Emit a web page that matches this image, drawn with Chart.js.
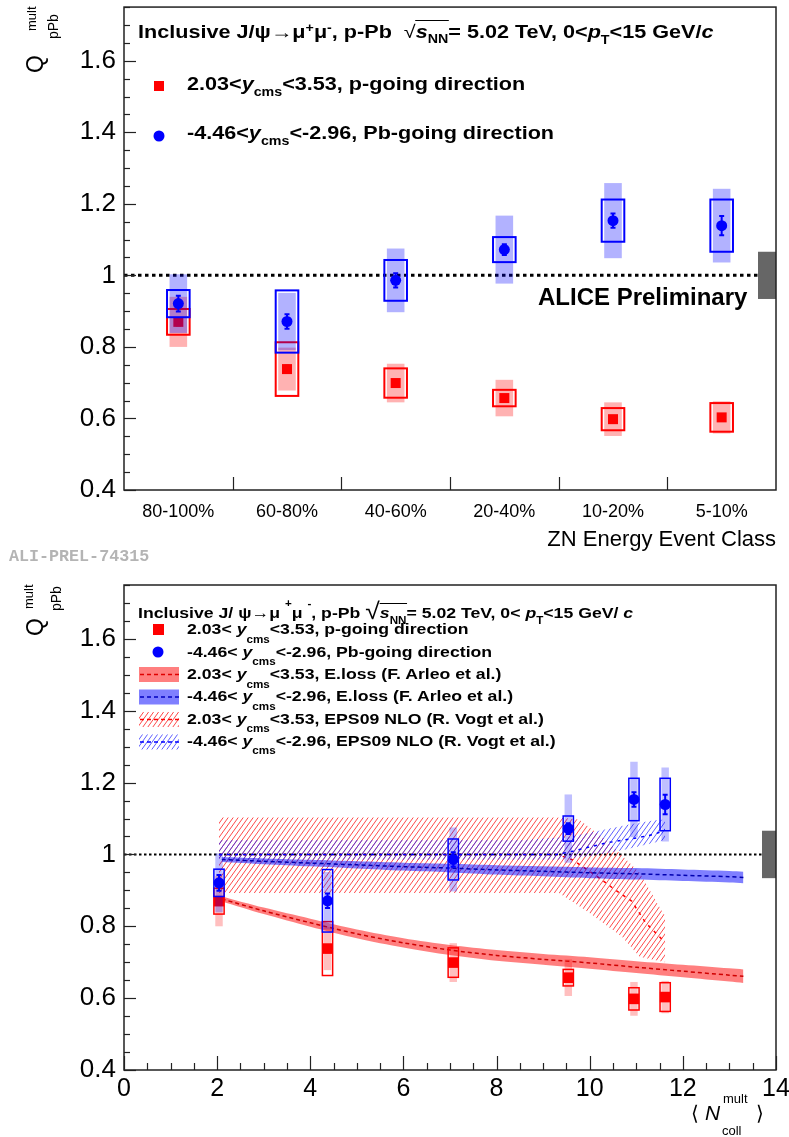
<!DOCTYPE html>
<html><head><meta charset="utf-8">
<script src="https://cdn.jsdelivr.net/npm/chart.js@4.4.0/dist/chart.umd.min.js"></script>
<style>
html,body{margin:0;padding:0;background:#fff;}
#wrap{position:relative;width:789px;height:1137px;overflow:hidden;font-family:'Liberation Sans',Arial,Helvetica,sans-serif;}
canvas{position:absolute;left:0;}
.t{position:absolute;white-space:nowrap;line-height:1;color:#000;transform-origin:0 0;}
.lo{position:relative;font-size:0.66em;}
.rot{position:absolute;white-space:nowrap;line-height:1;color:#000;transform:rotate(-90deg);transform-origin:0 0;}
</style></head><body>
<div id="wrap">
<canvas id="top" width="789" height="570" style="top:0px"></canvas>
<canvas id="bot" width="789" height="567" style="top:570px"></canvas>
</div>
<script>
// ---------------- DATA ----------------
const cats = ['80-100%', '60-80%', '40-60%', '20-40%', '10-20%', '5-10%'];
const nColl = [2.04, 4.37, 7.07, 9.54, 10.95, 11.62];

const redVal  = [0.870, 0.738, 0.699, 0.657, 0.598, 0.603];
const redStat = [0.010, 0.010, 0.008, 0.008, 0.008, 0.008];
const redSyst = [0.036, 0.075, 0.041, 0.023, 0.031, 0.040];
const redCorr = [0.070, 0.060, 0.054, 0.051, 0.047, 0.045];

const blueVal  = [0.921, 0.871, 0.986, 1.072, 1.153, 1.139];
const blueStat = [0.022, 0.020, 0.020, 0.015, 0.020, 0.027];
const blueSyst = [0.038, 0.087, 0.057, 0.035, 0.059, 0.073];
const blueCorr = [0.082, 0.080, 0.089, 0.095, 0.105, 0.103];

const globalUnc = 0.066;

const xTickValues = [0, 2, 4, 6, 8, 10, 12, 14];

// E.loss (Arleo et al.)
const elossX      = [2.1, 3, 4, 5, 6, 7, 8, 9, 10, 11, 12, 13, 13.3];
const elossRedLo  = [0.869, 0.834, 0.799, 0.767, 0.741, 0.720, 0.704, 0.693, 0.682, 0.670, 0.658, 0.646, 0.642];
const elossRedHi  = [0.883, 0.852, 0.821, 0.791, 0.767, 0.748, 0.734, 0.723, 0.714, 0.703, 0.693, 0.683, 0.680];
const elossRedMid = [0.876, 0.843, 0.810, 0.779, 0.754, 0.734, 0.719, 0.708, 0.698, 0.686, 0.675, 0.664, 0.661];
const elossBlueLo  = [0.979, 0.973, 0.967, 0.961, 0.955, 0.950, 0.944, 0.939, 0.934, 0.930, 0.926, 0.922, 0.920];
const elossBlueHi  = [0.993, 0.989, 0.985, 0.981, 0.977, 0.974, 0.970, 0.967, 0.964, 0.962, 0.958, 0.954, 0.952];
const elossBlueMid = [0.986, 0.981, 0.976, 0.971, 0.966, 0.962, 0.957, 0.953, 0.949, 0.946, 0.942, 0.938, 0.936];

// EPS09 NLO (Vogt et al.)
const epsRedHiX  = [2.04, 9.3, 9.77, 10.35, 11.07, 11.56, 11.62];
const epsRedHi   = [1.103, 1.103, 1.097, 1.040, 0.950, 0.840, 0.830];
const epsRedLoX  = [2.04, 9.34, 9.99, 10.7, 11.07, 11.62];
const epsRedLo   = [0.893, 0.893, 0.838, 0.770, 0.715, 0.700];
const epsRedMidX = [2.04, 9.3, 9.63, 10.2, 10.56, 10.9, 11.2, 11.45, 11.62];
const epsRedMid  = [1.000, 1.000, 0.985, 0.935, 0.900, 0.870, 0.810, 0.777, 0.755];

const epsBlueHiX  = [2.04, 8.6, 9.6, 10.35, 10.9, 11.4, 11.62];
const epsBlueHi   = [1.040, 1.040, 1.050, 1.070, 1.085, 1.095, 1.097];
const epsBlueLoX  = [2.04, 9.3, 10.0, 10.7, 11.2, 11.62];
const epsBlueLo   = [0.985, 0.985, 0.995, 1.012, 1.027, 1.040];
const epsBlueMidX = [2.04, 9.3, 9.63, 10.35, 10.92, 11.39, 11.62];
const epsBlueMid  = [1.000, 1.000, 1.009, 1.032, 1.044, 1.056, 1.068];

// ---------------- STYLE ----------------
const F = "'Liberation Sans', Arial, Helvetica, sans-serif";
const RED = '#ff0000', BLUE = '#0000ff';
const fmt = v => String(Number(v.toFixed(2)));
const xy = (xs, ys) => xs.map((x, i) => ({x, y: ys[i]}));

function hatch(color) {
  const c = document.createElement('canvas');
  c.width = 5; c.height = 7;
  const g = c.getContext('2d');
  g.strokeStyle = color; g.lineWidth = 1;
  for (const dx of [-5, 0, 5]) {
    g.beginPath(); g.moveTo(dx, 7); g.lineTo(dx + 5, 0); g.stroke();
  }
  return g.createPattern(c, 'repeat');
}
const hatchRed = hatch('rgba(255,40,40,0.85)');
const hatchBlue = hatch('rgba(40,40,255,0.75)');

function drawErrors(chart, ds, meta) {
  const e = ds.errInfo; if (!e) return;
  const {ctx, scales: {x, y}} = chart;
  const ppu = Math.abs(x.getPixelForValue(1) - x.getPixelForValue(0));
  ctx.save();
  meta.data.forEach((pt, i) => {
    const v = ds.data[i].y !== undefined ? ds.data[i].y : ds.data[i];
    const cx = pt.x;
    const sh = e.shadeHalf * ppu;
    const c1 = y.getPixelForValue(v + e.corr[i]), c2 = y.getPixelForValue(v - e.corr[i]);
    ctx.fillStyle = e.shade;
    ctx.fillRect(cx - sh, c1, 2 * sh, c2 - c1);
    const bh = e.boxHalf * ppu;
    const b1 = y.getPixelForValue(v + e.syst[i]), b2 = y.getPixelForValue(v - e.syst[i]);
    ctx.strokeStyle = e.color; ctx.lineWidth = e.boxLw;
    ctx.strokeRect(cx - bh, b1, 2 * bh, b2 - b1);
    const s1 = y.getPixelForValue(v + e.stat[i]), s2 = y.getPixelForValue(v - e.stat[i]);
    ctx.lineWidth = 2;
    ctx.beginPath();
    ctx.moveTo(cx, s1); ctx.lineTo(cx, s2);
    ctx.moveTo(cx - 2.5, s1); ctx.lineTo(cx + 2.5, s1);
    ctx.moveTo(cx - 2.5, s2); ctx.lineTo(cx + 2.5, s2);
    ctx.stroke();
  });
  ctx.restore();
}

function refLine(chart, dash, lw, grayW) {
  const {ctx, chartArea: a, scales: {y}} = chart;
  const p = y.getPixelForValue(1);
  ctx.save();
  ctx.fillStyle = '#666';
  const g1 = y.getPixelForValue(1 + globalUnc), g2 = y.getPixelForValue(1 - globalUnc);
  ctx.fillRect(a.right - grayW, g1, grayW, g2 - g1);
  ctx.strokeStyle = '#000'; ctx.lineWidth = lw; ctx.setLineDash(dash);
  ctx.beginPath(); ctx.moveTo(a.left, p); ctx.lineTo(a.right - grayW, p); ctx.stroke();
  ctx.restore();
}

function frameAndTicks(chart, xTicks) {
  const {ctx, chartArea: a, scales: {y}} = chart;
  ctx.save();
  ctx.strokeStyle = '#222'; ctx.lineWidth = 1.2;
  for (let k = 0; k <= 27; k++) {
    const v = 0.4 + k * 0.05;
    const p = Math.round(y.getPixelForValue(v)) + 0.5;
    ctx.beginPath(); ctx.moveTo(a.left, p); ctx.lineTo(a.left + (k % 4 === 0 ? 12 : 6), p); ctx.stroke();
  }
  xTicks.forEach(([px, len]) => {
    const p = Math.round(px) + 0.5;
    ctx.beginPath(); ctx.moveTo(p, a.bottom); ctx.lineTo(p, a.bottom - len); ctx.stroke();
  });
  ctx.lineWidth = 1.5; ctx.strokeStyle = '#222';
  ctx.strokeRect(a.left, a.top, a.right - a.left, a.bottom - a.top);
  ctx.restore();
}

const topPlugin = {
  id: 'topdeco',
  beforeDatasetsDraw(chart) { refLine(chart, [3.5, 3.5], 3, 18); },
  beforeDatasetDraw(chart, args) { drawErrors(chart, chart.data.datasets[args.index], args.meta); },
  afterDraw(chart) {
    const x = chart.scales.x;
    const ticks = [];
    for (let i = 0; i < cats.length - 1; i++) ticks.push([(x.getPixelForValue(i) + x.getPixelForValue(i + 1)) / 2, 13]);
    frameAndTicks(chart, ticks);
    const ctx = chart.ctx;
    ctx.save();
    ctx.fillStyle = RED; ctx.fillRect(154, 81, 10, 10);
    ctx.fillStyle = BLUE; ctx.beginPath(); ctx.arc(159, 136, 5.5, 0, 2 * Math.PI); ctx.fill();
    ctx.restore();
  }
};

const botPlugin = {
  id: 'botdeco',
  beforeDatasetsDraw(chart) { refLine(chart, [2.5, 2.5], 2, 14); },
  beforeDatasetDraw(chart, args) { drawErrors(chart, chart.data.datasets[args.index], args.meta); },
  afterDraw(chart) {
    const x = chart.scales.x;
    const ticks = [];
    for (let k = 0; k <= 28; k++) ticks.push([x.getPixelForValue(k * 0.5), k % 4 === 0 ? 14 : 7]);
    frameAndTicks(chart, ticks);
    const ctx = chart.ctx;
    ctx.save();
    ctx.fillStyle = RED; ctx.fillRect(153, 54, 11, 11);
    ctx.fillStyle = BLUE; ctx.beginPath(); ctx.arc(158, 82, 5.5, 0, 2 * Math.PI); ctx.fill();
    const boxes = [
      [104.5, 'rgba(255,0,0,0.5)', '#e00000'],
      [127, 'rgba(0,0,255,0.5)', '#0000c0'],
      [149.5, hatchRed, '#ff0000'],
      [172, hatchBlue, '#0000ff']
    ];
    boxes.forEach(([cy, fill, line]) => {
      ctx.fillStyle = fill; ctx.fillRect(139, cy - 7.5, 40, 15);
      ctx.strokeStyle = line; ctx.lineWidth = 1.5; ctx.setLineDash([4, 3]);
      ctx.beginPath(); ctx.moveTo(140, cy); ctx.lineTo(179, cy); ctx.stroke();
      ctx.setLineDash([]);
    });
    ctx.restore();
  }
};

const yFit = s => { s.width = 124; s.paddingTop = 0; s.paddingBottom = 0; };
const commonY = {
  min: 0.4, max: 1.75,
  grid: {display: false, drawTicks: false}, border: {display: false},
  ticks: {stepSize: 0.2, includeBounds: false, font: {size: 26, family: F}, color: '#000', padding: 8, callback: v => fmt(v)},
  afterFit: yFit
};

new Chart(document.getElementById('top'), {
  type: 'line',
  data: {
    labels: cats,
    datasets: [
      {label: '2.03<y<3.53, p-going direction', data: redVal, showLine: false, pointStyle: 'rect', pointRadius: 7.07,
       backgroundColor: RED, borderColor: RED, borderWidth: 0, order: 2,
       errInfo: {stat: redStat, syst: redSyst, corr: redCorr, color: RED, shade: 'rgba(255,0,0,0.3)', boxHalf: 0.104, shadeHalf: 0.081, boxLw: 2}},
      {label: '-4.46<y<-2.96, Pb-going direction', data: blueVal, showLine: false, pointStyle: 'circle', pointRadius: 5.5,
       backgroundColor: BLUE, borderColor: BLUE, borderWidth: 0, order: 1,
       errInfo: {stat: blueStat, syst: blueSyst, corr: blueCorr, color: BLUE, shade: 'rgba(0,0,255,0.3)', boxHalf: 0.104, shadeHalf: 0.081, boxLw: 2}}
    ]
  },
  options: {
    responsive: false, animation: false, events: [],
    layout: {padding: {left: 0, right: 13, top: 5, bottom: 0}},
    plugins: {legend: {display: false}, tooltip: {enabled: false}},
    scales: {
      x: {type: 'category', offset: true, grid: {display: false, drawTicks: false}, border: {display: false},
          ticks: {font: {size: 18, family: F}, color: '#000', padding: 11, maxRotation: 0, autoSkip: false},
          title: {display: true, text: 'ZN Energy Event Class', align: 'end', color: '#000', font: {size: 22, family: F}, padding: {top: 0, bottom: 17}},
          afterFit: s => { s.height = 80; s.paddingLeft = 0; s.paddingRight = 0; }},
      y: commonY
    }
  },
  plugins: [topPlugin]
});

const line = (data, o) => Object.assign({data, showLine: true, pointRadius: 0, borderWidth: 0, fill: false, tension: 0.3}, o);

new Chart(document.getElementById('bot'), {
  type: 'scatter',
  data: {
    datasets: [
      line(xy(epsRedHiX, epsRedHi), {label: 'EPS09 fwd hi', order: 62, tension: 0}),
      line(xy(epsRedLoX, epsRedLo), {label: 'EPS09 fwd lo', order: 61, fill: '-1', backgroundColor: hatchRed, tension: 0}),
      line(xy(epsRedMidX, epsRedMid), {label: '2.03<y<3.53, EPS09 NLO (R. Vogt et al.)', order: 60, borderWidth: 1.5, borderColor: '#ff0000', borderDash: [3, 5], tension: 0}),
      line(xy(epsBlueHiX, epsBlueHi), {label: 'EPS09 bwd hi', order: 52, tension: 0}),
      line(xy(epsBlueLoX, epsBlueLo), {label: 'EPS09 bwd lo', order: 51, fill: '-1', backgroundColor: hatchBlue, tension: 0}),
      line(xy(epsBlueMidX, epsBlueMid), {label: '-4.46<y<-2.96, EPS09 NLO (R. Vogt et al.)', order: 50, borderWidth: 1.5, borderColor: '#0000ff', borderDash: [3, 5], tension: 0}),
      line(xy(elossX, elossRedHi), {label: 'Eloss fwd hi', order: 42}),
      line(xy(elossX, elossRedLo), {label: 'Eloss fwd lo', order: 41, fill: '-1', backgroundColor: 'rgba(255,0,0,0.5)'}),
      line(xy(elossX, elossRedMid), {label: '2.03<y<3.53, E.loss (F. Arleo et al.)', order: 40, borderWidth: 1.5, borderColor: '#d00000', borderDash: [4, 3]}),
      line(xy(elossX, elossBlueHi), {label: 'Eloss bwd hi', order: 32}),
      line(xy(elossX, elossBlueLo), {label: 'Eloss bwd lo', order: 31, fill: '-1', backgroundColor: 'rgba(0,0,255,0.5)'}),
      line(xy(elossX, elossBlueMid), {label: '-4.46<y<-2.96, E.loss (F. Arleo et al.)', order: 30, borderWidth: 1.5, borderColor: '#0000b0', borderDash: [4, 3]}),
      {label: '2.03<y<3.53, p-going direction', data: xy(nColl, redVal), pointStyle: 'rect', pointRadius: 7.5,
       backgroundColor: RED, borderColor: RED, borderWidth: 0, order: 2,
       errInfo: {stat: redStat, syst: redSyst, corr: redCorr, color: RED, shade: 'rgba(255,0,0,0.25)', boxHalf: 0.11, shadeHalf: 0.08, boxLw: 1.5}},
      {label: '-4.46<y<-2.96, Pb-going direction', data: xy(nColl, blueVal), pointStyle: 'circle', pointRadius: 5.5,
       backgroundColor: BLUE, borderColor: BLUE, borderWidth: 0, order: 1,
       errInfo: {stat: blueStat, syst: blueSyst, corr: blueCorr, color: BLUE, shade: 'rgba(0,0,255,0.25)', boxHalf: 0.11, shadeHalf: 0.08, boxLw: 1.5}}
    ]
  },
  options: {
    responsive: false, animation: false, events: [],
    layout: {padding: {left: 0, right: 13, top: 15, bottom: 0}},
    plugins: {legend: {display: false}, tooltip: {enabled: false}},
    scales: {
      x: {type: 'linear', min: 0, max: 14, grid: {display: false, drawTicks: false}, border: {display: false},
          afterBuildTicks: s => { s.ticks = xTickValues.map(v => ({value: v})); },
          ticks: {font: {size: 25, family: F}, color: '#000', padding: 4, maxRotation: 0, autoSkip: false, callback: v => String(v)},
          afterFit: s => { s.height = 67; s.paddingLeft = 0; s.paddingRight = 0; }},
      y: commonY
    }
  },
  plugins: [botPlugin]
});

// ---------------- TEXT ----------------
const wrap = document.getElementById('wrap');
function txt(html, x, base, fs, style, sx) {
  const d = document.createElement('div');
  d.className = 't';
  d.style.left = x + 'px';
  d.style.top = (base - 0.8465 * fs) + 'px';
  d.style.fontSize = fs + 'px';
  if (style) d.style.cssText += style;
  if (sx) d.style.transform = `scaleX(${sx})`;
  d.innerHTML = html;
  wrap.appendChild(d);
  return d;
}
function rtxt(html, baseX, startY, fs, style) {
  const d = document.createElement('div');
  d.className = 'rot';
  d.style.left = (baseX - 0.8465 * fs) + 'px';
  d.style.top = startY + 'px';
  d.style.fontSize = fs + 'px';
  if (style) d.style.cssText += style;
  d.innerHTML = html;
  wrap.appendChild(d);
}
const lo = (t, em) => `<span class="lo" style="top:${em}em">${t}</span>`;
const B = 'font-weight:bold;';

// top panel
txt(`Inclusive J/ψ→μ${lo('+', -0.45)}μ${lo('-', -0.45)}, p-Pb&nbsp; <span style="font-weight:normal">√</span><span style="border-top:1.5px solid #000;padding-top:1px"><i>s</i>${lo('NN', 0.45)}</span>= 5.02 TeV, 0&lt;<i>p</i>${lo('T', 0.55)}&lt;15 GeV/<i>c</i>`, 138, 38, 18, B, 1.2);
txt(`2.03&lt;<i>y</i>${lo('cms', 0.55)}&lt;3.53, p-going direction`, 187, 90, 18, B, 1.2);
txt(`-4.46&lt;<i>y</i>${lo('cms', 0.55)}&lt;-2.96, Pb-going direction`, 187, 139, 18, B, 1.2);
txt('ALICE Preliminary', 538, 305, 24, B);
txt('ALI-PREL-74315', 9, 563, 16.7, B + "font-family:'Liberation Mono','Courier New',monospace;color:#b4b4b4;");
rtxt('Q', 43, 73, 23);
rtxt('mult', 36, 31, 13);
rtxt('pPb', 58, 39, 14);

// bottom panel
txt(`Inclusive J/ ψ→μ ${lo('+', -1.1)}μ ${lo('-', -1.1)}, p-Pb <span style="font-weight:normal;font-size:1.5em;position:relative;top:0.05em">√</span><span style="border-top:1px solid #000"><i>s</i>${lo('NN', 0.6)}</span>= 5.02 TeV, 0&lt; <i>p</i>${lo('T', 0.6)}&lt;15 GeV/ <i>c</i>`, 138, 612, 15.5, B, 1.14);
const entries = [
  [`2.03&lt; <i>y</i>${lo('cms', 0.8)}&lt;3.53, p-going direction`, 634.5],
  [`-4.46&lt; <i>y</i>${lo('cms', 0.8)}&lt;-2.96, Pb-going direction`, 657],
  [`2.03&lt; <i>y</i>${lo('cms', 0.8)}&lt;3.53, E.loss (F. Arleo et al.)`, 679.5],
  [`-4.46&lt; <i>y</i>${lo('cms', 0.8)}&lt;-2.96, E.loss (F. Arleo et al.)`, 701.5],
  [`2.03&lt; <i>y</i>${lo('cms', 0.8)}&lt;3.53, EPS09 NLO (R. Vogt et al.)`, 724],
  [`-4.46&lt; <i>y</i>${lo('cms', 0.8)}&lt;-2.96, EPS09 NLO (R. Vogt et al.)`, 746]
];
entries.forEach(([h, b]) => txt(h, 187, b, 15.5, B, 1.14));
rtxt('Q', 43, 636, 23);
rtxt('mult', 33, 609, 13);
rtxt('pPb', 61, 611, 14);
txt('⟨', 691, 1120, 20);
txt('<i>N</i>', 705, 1120, 21);
txt('mult', 723, 1103, 13);
txt('coll', 722, 1135, 13);
txt('⟩', 756, 1120, 20);
</script>
</body></html>
